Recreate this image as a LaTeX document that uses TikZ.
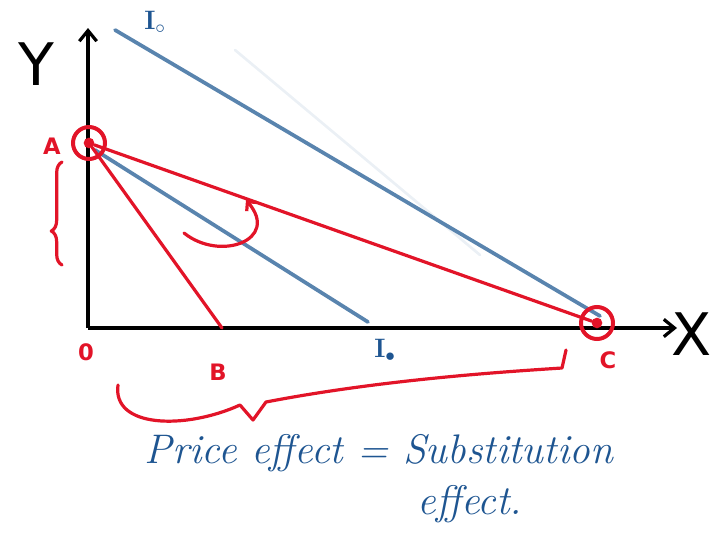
\documentclass[tikz,border=0pt]{standalone}
\usepackage{fontspec}
\setsansfont{DejaVu Sans}
\usepackage{tikz}
\usetikzlibrary{arrows.meta,decorations.pathreplacing}

\definecolor{penred}{RGB}{226,20,40}
\definecolor{penblue}{RGB}{60,110,160}
\definecolor{inkblue}{RGB}{30,85,145}

\begin{document}
\begin{tikzpicture}[x=0.75pt,y=-0.75pt,
  %% style definitions
  axis/.style    = {line width=2.4pt, -{Straight Barb[length=8pt,width=13pt,line width=2.4pt]}},
  redline/.style = {penred, line width=2.4pt, line cap=round, line join=round},
  icurve/.style  = {penblue!85, line width=2.8pt, line cap=round},
  ring/.style    = {circle, draw=penred, line width=3pt, minimum size=24pt, inner sep=0pt},
  dot/.style     = {circle, fill=penred, minimum size=8pt, inner sep=0pt},
  redlbl/.style  = {penred, font=\sffamily\bfseries\fontsize{17}{17}\selectfont},
  axlbl/.style   = {font=\sffamily\fontsize{44}{44}\selectfont},
  ilbl/.style    = {inkblue, font=\bfseries\fontsize{20}{20}\selectfont},
  hand/.style    = {inkblue, font=\itshape\fontsize{31}{34}\selectfont, align=left},
]
\useasboundingbox (0,0) rectangle (716,546);

%% ── Axes ────────────────────────────────────────────────────────────────────
\coordinate (O)    at (88,328);
\coordinate (ytop) at (88,28);
\coordinate (xend) at (677,328);
\draw[axis] (O) -- (ytop);
\draw[axis] (O) -- (xend);
\node[axlbl] (ylbl) at (36,64)  {Y};
\node[axlbl] (xlbl) at (692,334) {X};
\node[redlbl] (olbl) at (86,352) {0};

%% ── Indifference curves ────────────────────────────────────────────────────
\coordinate (i1a) at (115,30);
\coordinate (i1b) at (600,316);
\coordinate (i2a) at (95,150);
\coordinate (i2b) at (368,322);
\draw[icurve] (i1a) -- (i1b);
\draw[icurve, opacity=0.12, line width=2pt] (235,50) -- (480,255);
\draw[icurve] (i2a) -- (i2b);
\node[ilbl] (i1lbl) at (155,22)  {I$_\circ$};
\node[ilbl] (i2lbl) at (385,350) {I$_\bullet$};

%% ── Points and budget lines ─────────────────────────────────────────────────
\node[dot]  (A) at (89,143) {};
\node[ring] (Aring) at (A) {};
\node[dot]  (C) at (597,323) {};
\node[ring] (Cring) at (C) {};
\coordinate (B) at (222,328);
\node[redlbl] (alabel) at (52,146) {A};
\node[redlbl] (blabel) at (218,372) {B};
\node[redlbl] (clabel) at (608,360) {C};

\draw[redline] (A) -- (B);
\draw[redline] (A) -- (C);

%% ── Rotation arrow ──────────────────────────────────────────────────────────
\coordinate (rotS) at (184,233);
\coordinate (rotE) at (246,200);
\draw[redline, -{Straight Barb[length=5pt,width=10pt]}]
  (rotS) .. controls (220,262) and (280,240) .. (rotE);

%% ── Braces ──────────────────────────────────────────────────────────────────
\draw[redline, decorate, decoration={brace, amplitude=8pt, aspect=0.33}]
  (62,265) -- (62,162);
\draw[redline]
  (118,385) .. controls (112,428) and (185,430) .. (240,405)
  -- (253,420) -- (266,402)
  .. controls (380,380) and (500,372) .. (562,368) -- (566,350);

%% ── Caption ─────────────────────────────────────────────────────────────────
\node[hand, anchor=north west] (cap) at (140,430)
  {Price effect = Substitution\\[4pt]\hspace*{7.2cm}effect.};

\end{tikzpicture}
\end{document}
